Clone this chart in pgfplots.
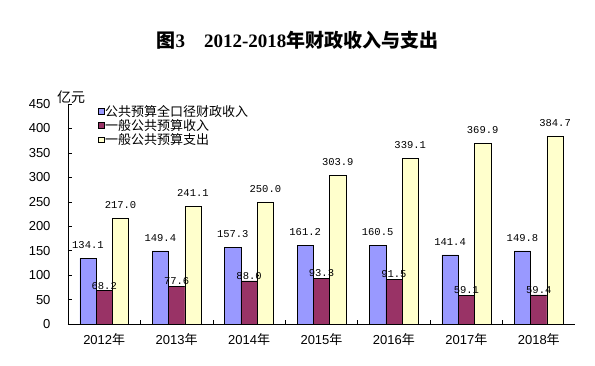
\documentclass[border=0pt]{standalone}
\usepackage{pgfplots}
\pgfplotsset{compat=1.18}
\usepackage{fontspec}
\setmainfont{Liberation Sans}
\newfontfamily\cjk{Noto Sans CJK SC}
\newfontfamily\mono{Liberation Mono}
\newfontfamily\serif{Liberation Serif}
\definecolor{cA}{HTML}{9999FF}
\definecolor{cB}{HTML}{993366}
\definecolor{cC}{HTML}{FFFFCC}
\begin{document}
\begin{tikzpicture}[x=1pt,y=1pt]
\useasboundingbox (0,0) rectangle (595,365);
\node[font=\fontsize{19}{19}\selectfont] at (297.5,325) {{\cjk\bfseries 图}{\serif\bfseries 3\quad 2012-2018}{\cjk\bfseries 年财政收入与支出}};
\node[font=\cjk\fontsize{14}{14}\selectfont] at (71,268) {亿元};
\begin{axis}[
  at={(68pt,41pt)}, anchor=south west,
  scale only axis, width=507pt, height=220pt,
  xmin=-0.5, xmax=6.5, ymin=0, ymax=450,
  axis x line*=bottom, axis y line*=left,
  axis line style={-, black, line width=0.6pt},
  ybar=0pt, bar width=16.3pt,
  clip=false,
  /pgf/number format/assume math mode=true,
  ytick={0,50,...,450},
  tick align=inside, major tick length=4pt,
  tick style={black, line width=0.5pt},
  yticklabel style={font=\fontsize{13}{13}\selectfont, anchor=east, xshift=-14pt},
  xtick={0.5,1.5,...,5.5}, xticklabels={},
  extra x ticks={0,1,2,3,4,5,6},
  extra x tick labels={2012{\cjk 年},2013{\cjk 年},2014{\cjk 年},2015{\cjk 年},2016{\cjk 年},2017{\cjk 年},2018{\cjk 年}},
  extra x tick style={major tick length=0pt},
  xticklabel style={font=\fontsize{13}{13}\selectfont, yshift=-6pt},
  nodes near coords={\pgfmathprintnumber[fixed,fixed zerofill,precision=1]{\pgfplotspointmeta}},
  every node near coord/.append style={font=\mono\fontsize{10.5}{10.5}\selectfont, anchor=center, black},
  legend style={at={(0.053,1.01)}, anchor=north west, draw=none, fill=none,
    font=\cjk\fontsize{13}{13}\selectfont, row sep=-0.3pt,
    nodes={inner sep=1pt}},
  legend cell align=left,
  legend image code/.code={\draw[#1, line width=0.5pt] (0pt,-2.8pt) rectangle (5.6pt,2.8pt);},
]
\addplot[fill=cA, draw=black, line width=0.5pt, every node near coord/.append style={yshift=13pt}] coordinates {(0,134.1) (1,149.4) (2,157.3) (3,161.2) (4,160.5) (5,141.4) (6,149.8)};
\addplot[fill=cB, draw=black, line width=0.5pt, every node near coord/.append style={yshift=5pt}] coordinates {(0,68.2) (1,77.6) (2,88.0) (3,93.3) (4,91.5) (5,59.1) (6,59.4)};
\addplot[fill=cC, draw=black, line width=0.5pt, every node near coord/.append style={yshift=13pt}] coordinates {(0,217.0) (1,241.1) (2,250.0) (3,303.9) (4,339.1) (5,369.9) (6,384.7)};
\legend{公共预算全口径财政收入,一般公共预算收入,一般公共预算支出}
\end{axis}
\end{tikzpicture}
\end{document}
